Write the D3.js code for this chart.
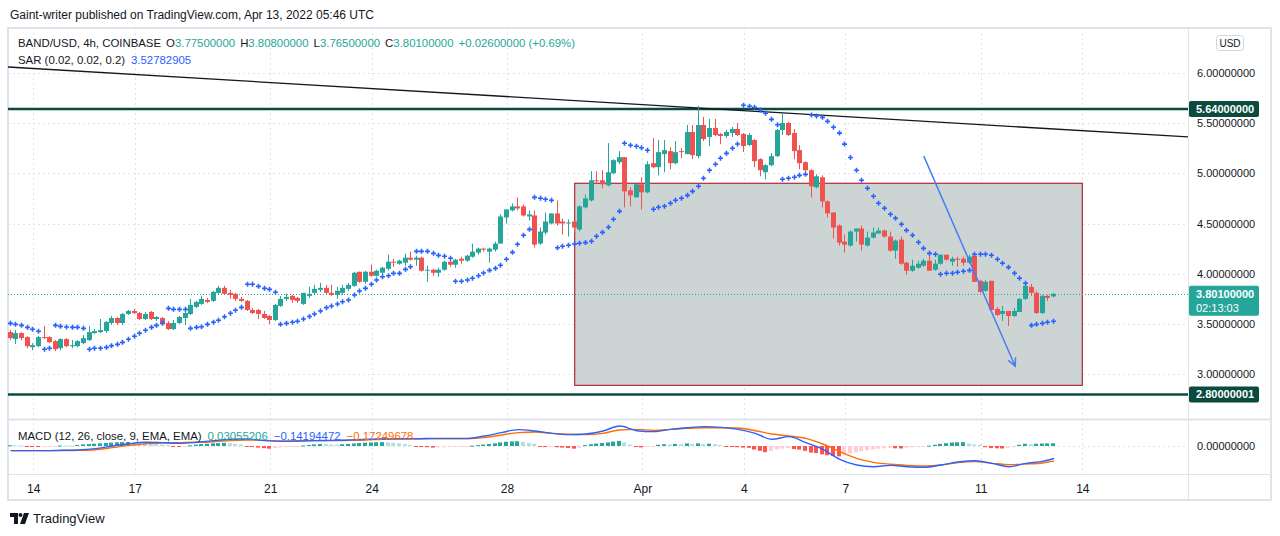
<!DOCTYPE html>
<html><head><meta charset="utf-8">
<script src="https://cdn.jsdelivr.net/npm/d3@7"></script>
<style>
html,body{margin:0;padding:0;background:#fff;}
svg{display:block;font-family:"Liberation Sans",Arial,sans-serif;}
</style></head><body>
<svg id="chart" width="1280" height="536"></svg>
<script>
// ---------------- DATA ----------------
const opens = [3.42,3.35,3.41,3.37,3.27,3.28,3.37,3.37,3.33,3.26,3.35,3.28,3.28,3.31,3.34,3.41,3.42,3.43,3.51,3.56,
3.51,3.60,3.63,3.61,3.55,3.62,3.55,3.56,3.51,3.45,3.51,3.56,3.60,3.67,3.70,3.74,3.73,3.81,3.86,3.81,
3.80,3.75,3.73,3.64,3.64,3.60,3.58,3.54,3.68,3.75,3.78,3.76,3.70,3.78,3.81,3.84,3.86,3.81,3.79,3.81,
3.85,3.88,4.02,3.92,4.02,3.98,4.01,4.05,4.12,4.10,4.11,4.16,4.14,4.16,4.03,4.04,4.01,4.04,4.12,4.09,
4.15,4.13,4.17,4.21,4.25,4.22,4.24,4.30,4.56,4.63,4.67,4.67,4.57,4.58,4.30,4.41,4.50,4.60,4.52,4.50,
4.52,4.44,4.66,4.73,4.93,4.93,4.88,5.00,5.11,5.16,4.83,4.76,4.89,4.81,5.10,5.06,5.19,5.22,5.10,5.22,
5.19,5.41,5.17,5.48,5.36,5.45,5.39,5.37,5.40,5.44,5.39,5.28,5.33,5.14,5.01,5.08,5.17,5.43,5.50,5.40,
5.23,5.11,5.03,4.86,4.96,4.72,4.61,4.48,4.32,4.28,4.42,4.45,4.28,4.36,4.40,4.43,4.37,4.23,4.34,4.11,
4.03,4.06,4.08,4.13,4.04,4.10,4.19,4.12,4.15,4.15,4.11,4.18,3.93,3.83,3.93,3.65,3.60,3.63,3.58,3.62,
3.75,3.87,3.81,3.61,3.78,3.775];
const highs = [3.44,3.44,3.42,3.38,3.31,3.38,3.48,3.38,3.34,3.36,3.36,3.34,3.34,3.39,3.48,3.45,3.55,3.53,3.58,3.57,
3.61,3.64,3.65,3.62,3.62,3.63,3.58,3.57,3.53,3.54,3.58,3.63,3.75,3.73,3.78,3.76,3.83,3.88,3.88,3.84,
3.81,3.77,3.74,3.66,3.65,3.63,3.59,3.70,3.78,3.80,3.79,3.77,3.81,3.87,3.89,3.91,3.89,3.89,3.87,3.89,
3.91,4.02,4.02,4.03,4.09,4.04,4.07,4.19,4.15,4.14,4.20,4.22,4.18,4.17,4.08,4.05,4.06,4.13,4.15,4.15,
4.17,4.19,4.30,4.26,4.26,4.26,4.32,4.59,4.64,4.70,4.76,4.69,4.63,4.63,4.46,4.61,4.60,4.73,4.55,4.54,
4.52,4.68,4.79,5.02,5.02,5.03,5.30,5.14,5.22,5.16,4.86,4.89,4.96,5.12,5.35,5.33,5.33,5.26,5.32,5.25,
5.48,5.48,5.67,5.56,5.54,5.54,5.40,5.43,5.46,5.50,5.40,5.40,5.34,5.15,5.09,5.20,5.44,5.59,5.51,5.44,
5.28,5.12,5.04,4.99,4.98,4.73,4.61,4.49,4.39,4.43,4.45,4.48,4.42,4.46,4.46,4.44,4.42,4.34,4.37,4.12,
4.14,4.13,4.15,4.19,4.14,4.19,4.19,4.17,4.17,4.17,4.19,4.19,3.94,3.94,3.93,3.67,3.68,3.63,3.66,3.76,
3.90,3.90,3.83,3.79,3.79,3.808];
const lows = [3.34,3.30,3.34,3.26,3.24,3.27,3.35,3.31,3.23,3.24,3.27,3.26,3.27,3.30,3.33,3.40,3.41,3.41,3.49,3.49,
3.49,3.59,3.60,3.54,3.54,3.54,3.53,3.49,3.44,3.44,3.50,3.49,3.59,3.66,3.69,3.71,3.72,3.80,3.79,3.75,
3.73,3.72,3.63,3.60,3.55,3.55,3.50,3.53,3.67,3.73,3.71,3.71,3.69,3.76,3.79,3.82,3.80,3.78,3.75,3.79,
3.83,3.87,3.91,3.90,3.97,3.97,3.99,4.03,4.07,4.09,4.08,4.13,4.08,4.02,3.92,3.98,3.97,4.03,4.07,4.06,
4.10,4.12,4.16,4.19,4.22,4.11,4.22,4.30,4.50,4.62,4.63,4.57,4.53,4.26,4.29,4.39,4.49,4.48,4.39,4.37,
4.42,4.42,4.65,4.72,4.89,4.85,4.87,4.99,5.09,4.66,4.67,4.76,4.64,4.80,5.05,4.98,5.01,5.04,5.09,5.15,
5.19,5.14,5.15,5.32,5.27,5.37,5.29,5.35,5.36,5.37,5.21,5.27,5.06,4.97,4.94,5.07,5.16,5.38,5.37,5.14,
5.04,5.00,4.76,4.85,4.66,4.56,4.35,4.28,4.21,4.27,4.32,4.23,4.27,4.35,4.40,4.36,4.22,4.15,4.09,3.99,
4.02,4.05,4.07,4.03,4.03,4.09,4.13,4.08,4.07,4.08,4.10,3.92,3.81,3.82,3.64,3.58,3.53,3.48,3.57,3.62,
3.74,3.78,3.60,3.60,3.73,3.765];
const closes = [3.36,3.41,3.36,3.28,3.29,3.37,3.36,3.32,3.25,3.35,3.28,3.29,3.33,3.36,3.42,3.43,3.44,3.52,3.56,3.51,
3.60,3.63,3.61,3.55,3.60,3.55,3.57,3.50,3.45,3.51,3.57,3.61,3.69,3.72,3.75,3.72,3.82,3.86,3.80,3.79,
3.75,3.73,3.64,3.61,3.60,3.56,3.54,3.69,3.75,3.77,3.74,3.73,3.81,3.80,3.85,3.86,3.81,3.79,3.83,3.86,
3.89,4.01,3.92,4.02,3.98,4.03,4.06,4.12,4.11,4.13,4.16,4.14,4.16,4.03,4.04,4.01,4.04,4.12,4.09,4.14,
4.13,4.18,4.22,4.25,4.24,4.25,4.30,4.57,4.64,4.67,4.65,4.58,4.59,4.29,4.42,4.52,4.60,4.50,4.50,4.51,
4.46,4.67,4.75,4.93,4.92,4.89,5.01,5.13,5.16,4.82,4.78,4.89,4.81,5.09,5.06,5.21,5.23,5.10,5.21,5.21,
5.41,5.18,5.48,5.34,5.45,5.38,5.37,5.41,5.44,5.38,5.27,5.38,5.12,5.03,5.08,5.17,5.43,5.50,5.38,5.22,
5.10,5.03,4.87,4.97,4.72,4.60,4.46,4.31,4.29,4.42,4.45,4.29,4.36,4.41,4.43,4.37,4.23,4.33,4.10,4.03,
4.08,4.10,4.13,4.03,4.10,4.19,4.14,4.15,4.14,4.11,4.17,3.92,3.82,3.92,3.64,3.59,3.63,3.58,3.63,3.75,
3.88,3.81,3.61,3.78,3.76,3.801];
const sar = [3.507,3.497,3.487,3.467,3.448,3.428,3.249,3.259,3.487,3.477,
3.470,3.467,3.467,3.457,3.249,3.259,3.259,3.268,3.285,3.298,
3.318,3.348,3.378,3.408,3.438,3.467,3.487,3.507,3.656,3.646,
3.646,3.646,3.457,3.467,3.473,3.497,3.517,3.537,3.573,3.607,
3.637,3.666,3.895,3.895,3.875,3.855,3.845,3.816,3.497,3.507,
3.517,3.527,3.550,3.575,3.600,3.629,3.663,3.679,3.699,3.722,
3.739,3.789,3.829,3.855,3.895,3.938,3.971,3.981,4.004,4.004,
4.044,4.070,4.223,4.223,4.223,4.203,4.183,4.174,4.154,3.925,
3.925,3.938,3.955,3.981,4.008,4.034,4.054,4.084,4.144,4.213,
4.293,4.383,4.442,4.760,4.751,4.741,4.731,4.259,4.273,4.283,
4.296,4.303,4.310,4.323,4.373,4.412,4.462,4.542,4.621,5.298,
5.278,5.268,5.254,5.228,4.641,4.661,4.671,4.701,4.731,4.751,
4.780,4.820,4.870,4.950,5.029,5.089,5.149,5.198,5.248,5.291,
5.676,5.666,5.656,5.629,5.596,5.536,5.483,4.940,4.950,4.960,
4.979,4.989,5.579,5.569,5.556,5.516,5.457,5.399,5.290,5.156,
5.029,4.930,4.850,4.771,4.701,4.651,4.592,4.552,4.492,4.432,
4.383,4.313,4.253,4.203,4.194,3.995,4.005,4.005,4.015,4.025,
4.034,4.194,4.194,4.194,4.184,4.144,4.104,4.064,4.005,3.955,
3.905,3.487,3.497,3.507,3.517,3.528];
const macdHist = [0.008,0.007,0.005,-0.002,-0.005,-0.007,-0.006,-0.006,-0.004,0.006,0.005,0.004,
0.012,0.018,0.022,0.026,0.030,0.034,0.038,0.042,0.044,0.046,
0.040,0.034,0.030,0.026,0.022,0.016,0.010,-0.004,-0.008,-0.006,
0.008,0.016,0.022,0.026,0.030,0.033,0.036,0.030,0.024,0.018,
-0.006,-0.012,-0.018,-0.024,-0.030,-0.022,-0.016,-0.012,-0.008,-0.004,
0.006,0.012,0.018,0.022,0.020,0.018,0.016,0.020,0.024,0.028,
0.034,0.038,0.040,0.042,0.044,0.040,0.036,0.030,0.022,0.012,
-0.002,-0.008,-0.014,-0.018,-0.016,-0.014,-0.012,-0.010,-0.006,-0.002,
0.004,0.010,0.016,0.022,0.030,0.040,0.048,0.052,0.054,0.046,0.036,0.026,
-0.006,-0.012,-0.010,-0.014,-0.018,-0.022,-0.030,-0.020,
0.010,0.020,0.028,0.034,0.040,0.050,0.058,0.040,0.016,
-0.008,-0.016,-0.012,-0.008,
0.014,0.020,0.018,0.024,0.020,0.030,0.022,0.030,0.024,0.026,0.020,0.012,
-0.004,-0.010,-0.014,-0.018,-0.020,-0.040,-0.055,-0.070,
-0.055,-0.040,-0.030,-0.025,
-0.035,-0.040,-0.055,-0.075,-0.080,-0.095,-0.105,-0.115,-0.118,
-0.095,-0.085,-0.072,-0.060,-0.050,-0.040,-0.032,-0.026,-0.020,
-0.026,-0.028,-0.020,-0.015,-0.010,-0.004,
0.004,0.014,0.024,0.032,0.040,0.042,0.044,0.028,0.016,0.014,
-0.014,-0.024,-0.026,-0.028,-0.020,-0.014,
0.014,0.025,0.022,0.026,0.028,0.030,0.0306];
const macdIdx = [0,3,6,9,12,15,18,21,24,27,30,33,36,39,42,45,48,51,54,57,60,63,66,69,72,75,78,81,84,87,90,
93,96,99,102,105,108,111,114,117,120,123,126,129,132,135,138,141,144,147,150,153,156,159,162,165,168,171,174,177,180,183,185];
const macdLine = [-0.053,-0.053,-0.053,-0.049,-0.045,-0.030,0.000,0.026,0.042,0.038,0.030,0.042,0.061,0.076,0.080,0.061,
0.053,0.057,0.061,0.064,0.068,0.076,0.080,0.083,0.083,0.087,0.087,0.087,0.114,0.152,0.186,
0.170,0.144,0.129,0.136,0.170,0.227,0.174,0.163,0.189,0.208,0.220,0.212,0.189,0.144,0.076,0.106,
0.038,-0.038,-0.152,-0.216,-0.235,-0.220,-0.235,-0.242,-0.216,-0.182,-0.167,-0.197,-0.235,-0.197,-0.174,-0.142];
const signalLine = [-0.053,-0.053,-0.053,-0.052,-0.049,-0.042,-0.019,0.008,0.026,0.034,0.038,0.042,0.049,0.061,0.068,0.064,
0.057,0.057,0.061,0.061,0.064,0.068,0.076,0.080,0.083,0.083,0.083,0.083,0.095,0.125,0.152,
0.159,0.144,0.133,0.129,0.144,0.182,0.189,0.178,0.189,0.201,0.208,0.208,0.205,0.174,0.136,0.114,
0.087,0.023,-0.064,-0.140,-0.186,-0.208,-0.220,-0.227,-0.216,-0.189,-0.178,-0.197,-0.212,-0.205,-0.193,-0.1725];
const dayIdx = [4,22,46,64,88,112,130,148,172,190];
const dayLabels = ["14","17","21","24","28","Apr","4","7","11","14"];
const priceTicks = [3.0,3.5,4.0,4.5,5.0,5.5,6.0];
const levels = [5.64, 2.80000001];
const levelLabels = ["5.64000000","2.80000001"];
const zone = {i0:100, i1:190, top:4.90, bottom:2.89};
const trendPts = [{i:0, p:6.055},{i:185, p:5.44}];
const arrowPts = [{i:161.9, p:5.17},{i:178.1, p:3.08}];

// ---------------- LAYOUT ----------------
const svg = d3.select("#chart");
const P = {left:8, right:1188, frameR:1271, top:28, mainB:419, macdT:420, macdB:474, bottom:500};
const UP="#26a69a", DN="#ef5350", BLUE="#2962ff", ORANGE="#ff6d00", TXT="#131722", LEVEL="#0b4b3e";

const x = d3.scaleLinear().domain([0,185]).range([10.7,1054.1]);
const y = d3.scaleLinear().domain([3,6]).range([374.3,72.7]);
const ym = d3.scaleLinear().domain([-0.25,0.25]).range([468,424]);

const defs = svg.append("defs");
defs.append("clipPath").attr("id","cm").append("rect").attr("x",P.left).attr("y",P.top).attr("width",P.right-P.left).attr("height",P.mainB-P.top);
defs.append("clipPath").attr("id","cd").append("rect").attr("x",P.left).attr("y",P.macdT).attr("width",P.right-P.left).attr("height",P.macdB-P.macdT);

// header
svg.append("text").attr("x",10).attr("y",19).attr("font-size",12).attr("fill",TXT)
  .text("Gaint-writer published on TradingView.com, Apr 13, 2022 05:46 UTC");

// frame
svg.append("rect").attr("x",P.left).attr("y",P.top).attr("width",P.frameR-P.left).attr("height",P.bottom-P.top)
  .attr("fill","none").attr("stroke","#e0e3eb").attr("stroke-width",2);
svg.append("line").attr("x1",P.right+0.5).attr("x2",P.right+0.5).attr("y1",P.top).attr("y2",P.bottom).attr("stroke","#e0e3eb");
svg.append("line").attr("x1",P.left).attr("x2",P.frameR).attr("y1",P.mainB+0.5).attr("y2",P.mainB+0.5).attr("stroke","#e0e3eb").attr("stroke-width",2);
svg.append("line").attr("x1",P.left).attr("x2",P.frameR).attr("y1",P.macdB+0.5).attr("y2",P.macdB+0.5).attr("stroke","#e0e3eb");

// grid
const grid = svg.append("g").attr("stroke","#dfe3ea").attr("stroke-dasharray","2,3");
dayIdx.forEach(d=>{ const xx=Math.round(x(d))+0.5;
  grid.append("line").attr("x1",xx).attr("x2",xx).attr("y1",P.top).attr("y2",P.macdB); });
priceTicks.forEach(t=>{ const yy=Math.round(y(t))+0.5;
  grid.append("line").attr("x1",P.left).attr("x2",P.right).attr("y1",yy).attr("y2",yy); });
grid.append("line").attr("x1",P.left).attr("x2",P.right).attr("y1",Math.round(ym(0))+0.5).attr("y2",Math.round(ym(0))+0.5);

// main pane
const main = svg.append("g").attr("clip-path","url(#cm)");
main.append("rect").attr("x",x(zone.i0)).attr("y",y(zone.top))
  .attr("width",x(zone.i1)-x(zone.i0)).attr("height",y(zone.bottom)-y(zone.top))
  .attr("fill","#ccd5d3").attr("stroke","#b22833").attr("stroke-width",1.2);
levels.forEach(v=>{ main.append("line").attr("x1",P.left).attr("x2",P.right).attr("y1",y(v)).attr("y2",y(v))
  .attr("stroke",LEVEL).attr("stroke-width",2.5); });
{ const x1=x(trendPts[0].i), y1=y(trendPts[0].p), x2=x(trendPts[1].i), y2=y(trendPts[1].p);
  const k=(y2-y1)/(x2-x1);
  main.append("line").attr("x1",P.left).attr("y1",y1+k*(P.left-x1)).attr("x2",P.right).attr("y2",y1+k*(P.right-x1))
   .attr("stroke","#131722").attr("stroke-width",1.3); }
main.append("line").attr("x1",P.left).attr("x2",P.right).attr("y1",Math.round(y(closes[185]))+0.5).attr("y2",Math.round(y(closes[185]))+0.5)
  .attr("stroke",UP).attr("stroke-dasharray","1,2");
const idx = d3.range(opens.length);
const cg = main.append("g");
idx.forEach(i=>{
  const r=Math.round(x(i)); const up=closes[i]>=opens[i]; const col=up?UP:DN;
  cg.append("rect").attr("x",r-1).attr("width",1).attr("y",y(highs[i])).attr("height",Math.max(1,y(lows[i])-y(highs[i]))).attr("fill",col);
  const t=y(Math.max(opens[i],closes[i])), b=y(Math.min(opens[i],closes[i]));
  cg.append("rect").attr("x",r-3).attr("width",5).attr("y",t).attr("height",Math.max(1,b-t)).attr("fill",col);
});
main.append("path").attr("fill","none").attr("stroke",BLUE).attr("stroke-width",1.6)
  .attr("d", idx.map(i=>{const cx=Math.round(x(i))-0.5, cy=y(sar[i]); return `M${cx-2.5},${cy}H${cx+2.5}M${cx},${cy-2.5}V${cy+2.5}`;}).join(""));
{ const ax1=x(arrowPts[0].i), ay1=y(arrowPts[0].p), ax2=x(arrowPts[1].i), ay2=y(arrowPts[1].p);
  const ang=Math.atan2(ay2-ay1, ax2-ax1), L=9, a=0.45;
  const p1=[ax2-L*Math.cos(ang-a), ay2-L*Math.sin(ang-a)], p2=[ax2-L*Math.cos(ang+a), ay2-L*Math.sin(ang+a)];
  main.append("path").attr("fill","none").attr("stroke","#4a7cf3").attr("stroke-width",1.5)
   .attr("d",`M${ax1},${ay1}L${ax2},${ay2}M${p1[0]},${p1[1]}L${ax2},${ay2}L${p2[0]},${p2[1]}`); }

// MACD pane
const mp = svg.append("g").attr("clip-path","url(#cd)");
idx.forEach(i=>{
  const v=macdHist[i], pv=i>0?macdHist[i-1]:v;
  let col; if(v>=0) col = v>=pv?"#26a69a":"#b2dfdb"; else col = v<pv?"#ff5252":"#ffcdd2";
  const r=Math.round(x(i)); const y0=ym(0), y1=ym(v);
  mp.append("rect").attr("x",r-3).attr("width",4).attr("y",Math.min(y0,y1)).attr("height",Math.max(1,Math.abs(y1-y0))).attr("fill",col);
});
const ln = d3.line().x((d,k)=>x(macdIdx[k])).y(d=>ym(d)).curve(d3.curveMonotoneX);
mp.append("path").attr("d",ln(signalLine)).attr("fill","none").attr("stroke",ORANGE).attr("stroke-width",1.4);
mp.append("path").attr("d",ln(macdLine)).attr("fill","none").attr("stroke",BLUE).attr("stroke-width",1.4);

// legends: pieces laid out one after another by measured width
const lg = svg.append("g").attr("fill",TXT);
function seq(x0, yp, fs, gap, groups){
  let xp=x0;
  groups.forEach(g=>{
    const t=lg.append("text").attr("x",xp).attr("y",yp).attr("font-size",fs);
    g.forEach(p=>t.append("tspan").attr("fill",p[1]).text(p[0]));
    xp += t.node().getComputedTextLength() + gap;
  });
}
seq(18,46.5,11.4,5,[[["BAND/USD, 4h, COINBASE",TXT]],[["O",TXT],["3.77500000",UP]],[["H",TXT],["3.80800000",UP]],
  [["L",TXT],["3.76500000",UP]],[["C",TXT],["3.80100000",UP]],[["+0.02600000 (+0.69%)",UP]]]);
seq(18,63.5,11.4,6,[[["SAR (0.02, 0.02, 0.2)",TXT]],[["3.52782905",BLUE]]]);
seq(18,440,11.4,6,[[["MACD (12, 26, close, 9, EMA, EMA)",TXT]],[["0.03055206",UP]],[["\u22120.14194472",BLUE]],[["\u22120.17249678",ORANGE]]]);

// price axis
const ya = svg.append("g").attr("transform",`translate(${P.right+9},0)`)
  .call(d3.axisRight(y).tickValues(priceTicks).tickFormat(d3.format(".8f")).tickSize(0));
ya.select(".domain").remove();
ya.selectAll("text").attr("font-size",11).attr("fill",TXT).attr("font-family","Liberation Sans, Arial, sans-serif").attr("x",0);
svg.append("text").attr("x",P.right+9).attr("y",ym(0)).attr("dy","0.35em").attr("font-size",11).attr("fill",TXT).text("0.00000000");
svg.append("rect").attr("x",1216.5).attr("y",35.5).attr("width",27).attr("height",15).attr("rx",3).attr("fill","#fff").attr("stroke","#d1d4dc");
svg.append("text").attr("x",1230).attr("y",46.5).attr("text-anchor","middle").attr("font-size",10).attr("fill",TXT).text("USD");
levels.forEach((v,k)=>{ const yy=y(v);
  svg.append("rect").attr("x",P.right+1).attr("y",yy-8).attr("width",70).attr("height",16).attr("rx",2).attr("fill",LEVEL);
  svg.append("text").attr("x",P.right+8).attr("y",yy).attr("dy","0.35em").attr("font-size",11).attr("font-weight","bold").attr("fill","#fff").text(levelLabels[k]); });
{ const yy=y(closes[185]);
  svg.append("rect").attr("x",P.right+1).attr("y",yy-8).attr("width",70).attr("height",30).attr("rx",2).attr("fill",UP);
  svg.append("text").attr("x",P.right+8).attr("y",yy).attr("dy","0.35em").attr("font-size",11).attr("font-weight","bold").attr("fill","#fff").text(d3.format(".8f")(closes[185]));
  svg.append("text").attr("x",P.right+8).attr("y",yy+14).attr("dy","0.35em").attr("font-size",11).attr("fill","#fff").text("02:13:03"); }

// time axis
const xa = svg.append("g").attr("transform",`translate(0,${P.macdB+7})`)
  .call(d3.axisBottom(x).tickValues(dayIdx).tickFormat((d,k)=>dayLabels[k]).tickSize(0));
xa.select(".domain").remove();
xa.selectAll("text").attr("font-size",12).attr("fill",TXT).attr("font-family","Liberation Sans, Arial, sans-serif");

// footer logo
const lo = svg.append("g").attr("fill",TXT);
lo.append("path").attr("d","M10,513H18V524H14V517H10Z");
lo.append("circle").attr("cx",20.5).attr("cy",515).attr("r",2);
lo.append("path").attr("d","M24,513H29L25,524H20Z");
svg.append("text").attr("x",33).attr("y",523).attr("font-size",13).attr("fill",TXT).text("TradingView");
</script></body></html>
